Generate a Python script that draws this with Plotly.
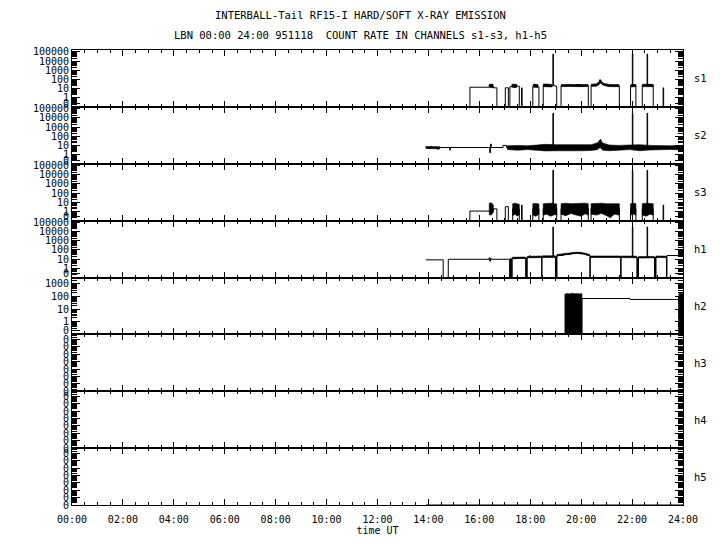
import math
import plotly.graph_objects as go
from plotly.subplots import make_subplots

hours = list(range(0, 25, 2))
hour_labels = ["%02d:00" % h for h in hours]
channels = ["s1", "s2", "s3", "h1", "h2", "h3", "h4", "h5"]

# count rates, time in hours UT; step data (value holds until next time)
s1_t = [13.90, 15.63, 16.39, 16.43, 16.46, 16.50, 16.55, 16.69, 17.02, 17.14, 17.20, 17.30, 17.35, 17.40, 17.45,
        17.57, 17.66, 17.68, 18.10, 18.16, 18.22, 18.34, 18.51, 18.60, 18.72, 18.89, 18.91, 18.97, 19.04, 19.21,
        19.40, 19.60, 19.80, 20.00, 20.15, 20.28, 20.39, 20.55, 20.66, 20.72, 20.76, 20.84, 20.95, 21.10, 21.30,
        21.50, 21.94, 22.01, 22.03, 22.15, 22.40, 22.59, 22.61, 22.83, 23.22, 23.24, 24.0]
s1_v = [0, 14, 25, 14, 28, 18, 12, 0, 12, 0, 16, 24, 14, 26, 18,
        0, 12, 0, 18, 26, 16, 0, 22, 28, 20, 58000, 22, 18, 0, 20,
        24, 21, 25, 19, 23, 0, 22, 28, 45, 87, 40, 26, 20, 22, 20,
        0, 20, 58000, 24, 0, 22, 58000, 26, 0, 12, 0, 0]
s1_band_t = [16.40, 16.54, None, 17.28, 17.47, None, 18.12, 18.30, None, 18.52, 18.70, 18.86, None,
             19.22, 19.60, 20.00, 20.26, None, 20.40, 20.60, 20.72, 20.76, 20.85, 21.10, 21.48, None,
             21.95, 22.14, None, 22.41, 22.60, 22.82]
s1_band_hi = [30, 28, None, 30, 28, None, 30, 28, None, 32, 30, 28, None,
              28, 30, 27, 28, None, 30, 32, 60, 90, 40, 28, 27, None,
              28, 28, None, 30, 30, 28]
s1_band_lo = [14, 12, None, 14, 13, None, 14, 13, None, 16, 16, 15, None,
              17, 18, 16, 17, None, 17, 18, 30, 45, 24, 16, 16, None,
              15, 16, None, 16, 17, 16]

s2_t = [13.90, 14.00, 14.08, 14.15, 14.25, 14.33, 14.42, 14.50, 14.84, 14.86, 16.38, 16.41, 16.44,
        16.47, 16.93, 17.07, 18.89, 18.91, 20.70, 20.74, 20.78, 22.01, 22.03, 22.59, 22.61, 24.0]
s2_v = [6, 4.5, 7, 5, 6.5, 4, 6, 5.9, 3, 5.9, 5.9, 1.6, 14,
        5.9, 10, 5.9, 32000, 5.9, 5.9, 41, 5.9, 32000, 5.9, 32000, 5.9, 5.9]
s2_band_t = [13.90, 14.45, None, 17.10, 17.50, 17.90, 18.30, 18.60, 19.00, 19.50, 20.00, 20.40, 20.65,
             20.74, 20.85, 21.10, 21.50, 21.90, 22.30, 22.70, 23.10, 23.50, 24.0]
s2_band_hi = [7.5, 7, None, 9, 10, 9, 12, 13, 12, 13, 12, 12, 20,
              41, 18, 11, 10, 11, 12, 10, 9, 9, 10]
s2_band_lo = [4.5, 4.5, None, 3.5, 3, 3.5, 2.8, 2.5, 2.6, 2.8, 2.6, 2.8, 3.5,
              6, 3, 2.6, 3, 3.5, 2.6, 3.2, 3.6, 3.6, 3.2]

s3_t = [13.90, 15.63, 16.55, 16.69, 17.02, 17.14, 17.31, 17.57, 17.66, 17.68, 18.10, 18.34, 18.51, 18.89, 18.91,
        19.04, 19.21, 20.28, 20.39, 21.50, 21.94, 22.01, 22.03, 22.15, 22.40, 22.59, 22.61, 22.83, 23.22,
        23.24, 24.0]
s3_v = [0, 1.1, 1.9, 0, 3.3, 0, 2, 0, 5, 0, 2, 0, 2, 32000, 2,
        0, 2, 0, 2, 0, 2, 32000, 2, 0, 2, 32000, 2, 0, 5,
        0, 0]
s3_band_t = [16.39, 16.47, 16.55, None, 17.31, 17.40, 17.48, 17.57, None, 18.10, 18.22, 18.34, None,
             18.51, 18.65, 18.80, 18.95, 19.04, None, 19.21, 19.40, 19.60, 19.80, 20.00, 20.15, 20.28, None,
             20.39, 20.60, 20.80, 21.00, 21.15, 21.30, 21.50, None, 21.94, 22.05, 22.15, None,
             22.40, 22.55, 22.70, 22.83]
s3_band_hi = [7.6, 9, 5, None, 7, 8, 7, 6, None, 7, 7.5, 6.5, None,
              7, 7.5, 8, 7, 6.5, None, 7, 8, 7, 7.5, 7, 8, 7, None,
              7, 7.5, 8, 7, 7.5, 7, 7, None, 7, 8, 7, None,
              7, 8, 7.5, 7]
s3_band_lo = [0.45, 0.4, 0.8, None, 0.35, 0.5, 0.3, 0.45, None, 0.4, 0.3, 0.5, None,
              0.4, 0.5, 0.3, 0.45, 0.4, None, 0.5, 0.35, 0.6, 0.4, 0.3, 0.55, 0.4, None,
              0.5, 0.4, 0.6, 0.35, 0.2, 0.5, 0.4, None, 0.4, 0.5, 0.4, None,
              0.4, 0.3, 0.5, 0.4]

h1_t = [13.90, 14.58, 14.78, 16.38, 16.41, 16.44, 16.47, 17.19, 17.21, 17.23, 17.25, 17.27, 17.29, 17.45,
        17.82, 17.84, 17.86, 17.88, 17.95, 18.02, 18.45, 18.46, 18.89, 18.91, 18.99, 19.01, 19.03, 19.05,
        19.30, 19.60, 19.80, 20.05, 20.20, 20.34, 20.36, 21.55, 21.57, 22.01, 22.03, 22.19, 22.21, 22.23,
        22.25, 22.59, 22.61, 22.88, 22.90, 22.92, 22.94, 23.35, 23.37, 24.0]
h1_v = [8.4, 0, 9.7, 14, 6, 12, 9.7, 0, 11, 0, 11, 0, 12, 14,
        0, 14, 0, 15, 22, 17, 0, 18, 32000, 18, 0, 22, 0, 25,
        35, 45, 49, 40, 28, 0, 18, 0, 18, 32000, 17, 0, 15, 0,
        15, 32000, 16, 0, 17, 0, 18, 0, 25, 25]
h1_band_t = [17.29, 17.80, None, 17.88, 18.44, None, 18.47, 18.98, None, 19.05, 19.40, 19.80, 20.10, 20.33,
             None, 20.37, 21.00, 21.54, None, 21.58, 22.18, None, 22.25, 22.87, None, 22.94, 23.34]
h1_band_hi = [16, 17, None, 20, 22, None, 23, 23, None, 32, 42, 58, 48, 33,
              None, 22, 23, 22, None, 22, 21, None, 19, 20, None, 22, 21]
h1_band_lo = [11, 12, None, 14, 15, None, 15, 15, None, 22, 30, 42, 34, 24,
              None, 15, 15, 15, None, 15, 14, None, 13, 14, None, 15, 15]

h2_t = [13.90, 19.36, 20.03, 21.92, 23.84, 24.0]
h2_v = [0, 0, 69, 58, 0, 0]
h2_band_t = [19.36, 19.45, 19.55, 19.65, 19.75, 19.85, 19.95, 20.03, None, 23.84, 23.92, 24.0]
h2_band_hi = [150, 175, 160, 180, 165, 175, 155, 170, None, 170, 160, 170]
h2_band_lo = [0, 0, 0, 0, 0, 0, 0, 0, None, 0, 0, 0]

# h3-h5 count nothing all day
h3_t, h3_v = [13.90, 24.0], [0, 0]
h4_t, h4_v = [13.90, 24.0], [0, 0]
h5_t, h5_v = [13.90, 24.0], [0, 0]

ZERO = 0.03  # zero counts drawn just below the log range


def nz(vals):
    return [None if v is None else max(v, ZERO) for v in vals]


def band_polygon(t, hi, lo):
    xs, ys = [], []
    seg = []
    for a, b, c in list(zip(t, hi, lo)) + [(None, None, None)]:
        if a is None:
            if seg:
                xs += [p[0] for p in seg] + [p[0] for p in reversed(seg)] + [seg[0][0], None]
                ys += [p[1] for p in seg] + [p[2] for p in reversed(seg)] + [seg[0][1], None]
            seg = []
        else:
            seg.append((a, max(b, ZERO), max(c, ZERO)))
    return xs, ys


series = [
    (s1_t, s1_v, s1_band_t, s1_band_hi, s1_band_lo),
    (s2_t, s2_v, s2_band_t, s2_band_hi, s2_band_lo),
    (s3_t, s3_v, s3_band_t, s3_band_hi, s3_band_lo),
    (h1_t, h1_v, h1_band_t, h1_band_hi, h1_band_lo),
    (h2_t, h2_v, h2_band_t, h2_band_hi, h2_band_lo),
]

fig = make_subplots(rows=8, cols=1, shared_xaxes=True, vertical_spacing=0)

for i, (t, v, bt, bh, bl) in enumerate(series):
    bx, by = band_polygon(bt, bh, bl)
    fig.add_trace(go.Scatter(x=bx, y=by, mode="lines", fill="toself", fillcolor="black",
                             line=dict(color="black", width=0.6), hoverinfo="skip"), row=i + 1, col=1)
    fig.add_trace(go.Scatter(x=t, y=nz(v), mode="lines", line_shape="hv",
                             line=dict(color="black", width=1)), row=i + 1, col=1)

for i, (t, v) in enumerate([(h3_t, h3_v), (h4_t, h4_v), (h5_t, h5_v)]):
    fig.add_trace(go.Scatter(x=t, y=v, mode="lines", line_shape="hv",
                             line=dict(color="black", width=1)), row=i + 6, col=1)

font = dict(family="DejaVu Sans Mono", size=10, color="black")
axis_style = dict(showline=True, linecolor="black", linewidth=1, mirror="ticks", ticks="inside",
                  tickcolor="black", showgrid=False, zeroline=False, tickfont=font)

fig.update_xaxes(range=[0, 24], tickvals=hours, ticktext=hour_labels, ticklen=6,
                 minor=dict(tickvals=[k * 0.5 for k in range(49)], ticks="inside", ticklen=3,
                            tickcolor="black", showgrid=False),
                 showticklabels=False, **axis_style)
fig.update_xaxes(showticklabels=True, ticklabelstandoff=5,
                 title=dict(text="time UT", font=font, standoff=1), row=8, col=1)

log_minor = lambda d0, d1: [m * 10 ** d for d in range(d0, d1) for m in range(2, 10)]
for r in range(1, 5):
    fig.update_yaxes(type="log", range=[-1, 5.2],
                     tickvals=[0.25, 1, 10, 100, 1000, 10000, 100000],
                     ticktext=["0", "1", "10", "100", "1000", "10000", "100000"], ticklen=8,
                     minor=dict(tickvals=log_minor(-1, 6), ticks="inside", ticklen=5,
                                tickcolor="black", showgrid=False),
                     row=r, col=1, **axis_style)
fig.update_yaxes(type="log", range=[-1, 3.5], tickvals=[0.2, 1, 10, 100, 1000],
                 ticktext=["0", "1", "10", "100", "1000"], ticklen=8,
                 minor=dict(tickvals=log_minor(-1, 4), ticks="inside", ticklen=5,
                            tickcolor="black", showgrid=False),
                 row=5, col=1, **axis_style)

zero_ticks = [0.0, 0.13, 0.26, 0.39, 0.52, 0.65, 0.78, 0.91]
zero_minor = [z + 0.13 * math.log10(m) for z in zero_ticks for m in range(2, 10) if z + 0.13 * math.log10(m) < 1]
for r in range(6, 9):
    fig.update_yaxes(range=[0, 1], tickvals=zero_ticks, ticktext=["0"] * len(zero_ticks), ticklen=8,
                     minor=dict(tickvals=zero_minor, ticks="inside", ticklen=5,
                                tickcolor="black", showgrid=False),
                     row=r, col=1, **axis_style)

annotations = [
    dict(text="INTERBALL-Tail RF15-I HARD/SOFT X-RAY EMISSION", x=0.4714, y=1.077),
    dict(text="LBN 00:00 24:00 951118 \u00a0COUNT RATE IN CHANNELS s1-s3, h1-h5", x=0.4714, y=1.033),
]
for a in annotations:
    fig.add_annotation(xref="paper", yref="paper", showarrow=False, xanchor="center", yanchor="middle",
                       font=dict(family="DejaVu Sans Mono", size=10.5, color="black"), **a)
for i, ch in enumerate(channels):
    yref = "y domain" if i == 0 else "y%d domain" % (i + 1)
    fig.add_annotation(text=ch, xref="paper", yref=yref, x=1.028, y=0.5, showarrow=False,
                       xanchor="center", yanchor="middle",
                       font=dict(family="DejaVu Sans Mono", size=10.5, color="black"))

# the page body adds an 8 px offset, so the figure is 8 px smaller on the top/left
fig.update_layout(
    template="none",
    width=712,
    height=542,
    margin=dict(l=64, r=37, t=42, b=45),
    plot_bgcolor="white",
    paper_bgcolor="white",
    showlegend=False,
    font=font,
)

fig.write_html("out.html")
